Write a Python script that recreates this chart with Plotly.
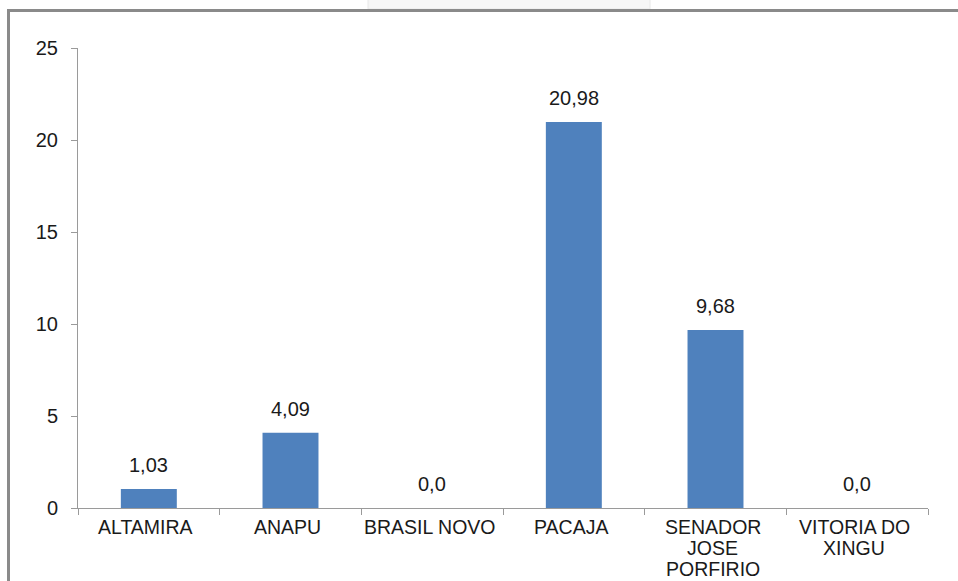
import plotly.graph_objects as go

categories = ["ALTAMIRA", "ANAPU", "BRASIL NOVO", "PACAJA", "SENADOR<br>JOSE<br>PORFIRIO", "VITORIA DO<br>XINGU"]
values = [1.03, 4.09, 0.0, 20.98, 9.68, 0.0]
y_ticks = [0, 5, 10, 15, 20, 25]

def fmt(v):
    return "0,0" if v == 0 else f"{v:.2f}".replace(".", ",")

labels = [fmt(v) for v in values]

W, H = 958, 581
L, R, T, B = 78, 30, 48, 73
pw, ph = W - L - R, H - T - B

def px(x):
    return (x - L) / pw

def py(y):
    return (H - B - y) / ph

FONT = "Liberation Sans, Arial, sans-serif"
TXT = "#1a1a1a"
fig = go.Figure()
fig.add_trace(go.Bar(x=categories, y=values, marker=dict(color="#4F81BD", line=dict(width=0)),
                     hoverinfo="skip"))

for c, v, t in zip(categories, values, labels):
    fig.add_annotation(x=c, y=v, text=t, showarrow=False, yanchor="bottom", yshift=11,
                       font=dict(family=FONT, size=20, color=TXT))

# category labels, one annotation per line for tighter line spacing
for c in categories:
    for i, line in enumerate(c.split("<br>")):
        fig.add_annotation(x=c, y=0, text=line, showarrow=False, yanchor="top",
                           yshift=-7 - 21 * i, xshift=-3, borderpad=0,
                           font=dict(family=FONT, size=19.5, color=TXT))

shapes = [
    dict(type="rect", xref="paper", yref="paper", x0=px(368), x1=px(650), y0=py(9), y1=py(-2),
         line=dict(color="#e8e8e8", width=1), fillcolor="#f6f6f6", layer="below"),
    dict(type="path", xref="paper", yref="paper",
         path=f"M {px(8.5)} {py(600)} L {px(8.5)} {py(10.5)} L {px(970)} {py(10.5)}",
         line=dict(color="#8a8a8a", width=3)),
]

fig.update_layout(
    width=W, height=H, margin=dict(l=L, r=R, t=T, b=B),
    paper_bgcolor="white", plot_bgcolor="white",
    bargap=0.605, showlegend=False, shapes=shapes,
    font=dict(family=FONT, size=19.5, color=TXT),
    xaxis=dict(showline=True, linecolor="#9a9a9a", linewidth=1, ticks="outside", tickson="boundaries",
               ticklen=6, tickcolor="#9a9a9a", showgrid=False, showticklabels=False, automargin=False),
    yaxis=dict(range=[0, 25], tickvals=y_ticks, showline=True, linecolor="#9a9a9a", linewidth=1,
               ticks="outside", ticklen=6, tickcolor="#9a9a9a", showgrid=False, zeroline=False,
               tickfont=dict(size=20, color=TXT), ticklabelstandoff=9, automargin=False),
)

fig.write_html("out.html")
